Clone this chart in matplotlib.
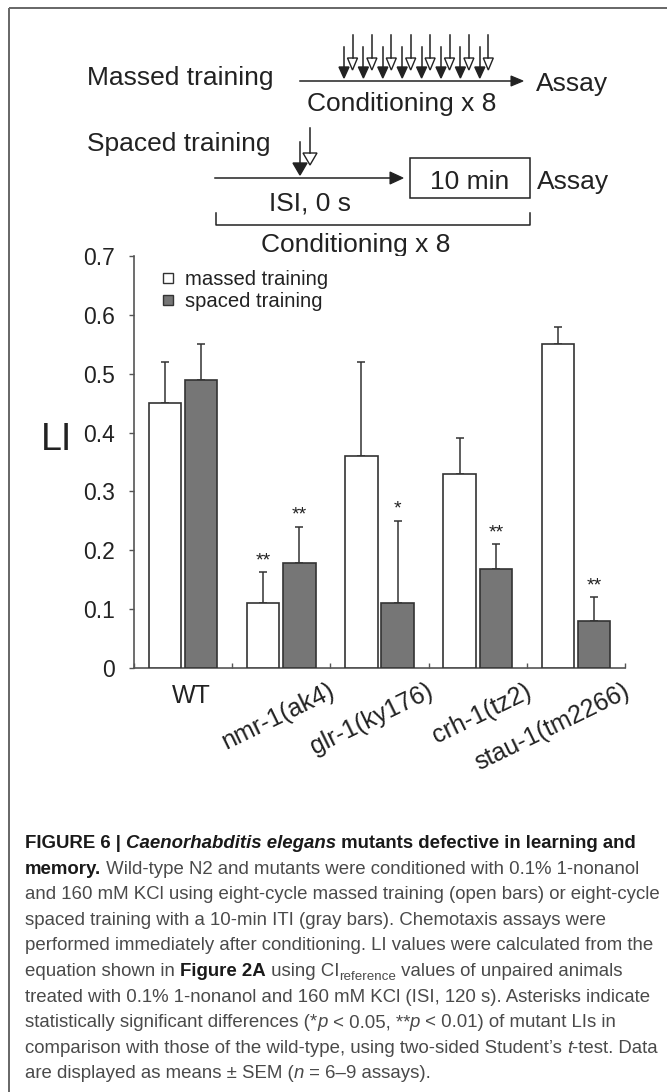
import numpy as np
import matplotlib
matplotlib.use('Agg')
import matplotlib.pyplot as plt
from matplotlib.patches import Polygon, Rectangle
from matplotlib.lines import Line2D
import matplotlib.transforms as mtransforms

# ---------------- data ----------------
genotypes = ['WT', 'nmr-1(ak4)', 'glr-1(ky176)', 'crh-1(tz2)', 'stau-1(tm2266)']
massed_mean = [0.45, 0.11, 0.36, 0.33, 0.55]
massed_sem = [0.07, 0.053, 0.16, 0.06, 0.03]
spaced_mean = [0.49, 0.178, 0.11, 0.168, 0.08]
spaced_sem = [0.06, 0.062, 0.14, 0.042, 0.04]
massed_sig = ['', '**', '', '', '']
spaced_sig = ['', '**', '*', '**', '**']
ytick_values = [0, 0.1, 0.2, 0.3, 0.4, 0.5, 0.6, 0.7]
ytick_labels = ['0', '0.1', '0.2', '0.3', '0.4', '0.5', '0.6', '0.7']
legend_labels = ['massed training', 'spaced training']
ylabel = 'LI'

caption_lines = [
    [('FIGURE 6 | ', 'b'), ('Caenorhabditis elegans', 'bi'), (' mutants defective in learning and', 'b')],
    [('memory.', 'b'), (' Wild-type N2 and mutants were conditioned with 0.1% 1-nonanol', 'r')],
    [('and 160 mM KCl using eight-cycle massed training (open bars) or eight-cycle', 'r')],
    [('spaced training with a 10-min ITI (gray bars). Chemotaxis assays were', 'r')],
    [('performed immediately after conditioning. LI values were calculated from the', 'r')],
    [('equation shown in ', 'r'), ('Figure 2A', 'b'), (' using CI', 'r'), ('reference', 'sub'),
     (' values of unpaired animals', 'r')],
    [('treated with 0.1% 1-nonanol and 160 mM KCl (ISI, 120 s). Asterisks indicate', 'r')],
    [('statistically significant differences (*', 'r'), ('p', 'i'), (' < 0.05, **', 'r'), ('p', 'i'),
     (' < 0.01) of mutant LIs in', 'r')],
    [('comparison with those of the wild-type, using two-sided Student\u2019s ', 'r'), ('t', 'i'),
     ('-test. Data', 'r')],
    [('are displayed as means \u00b1 SEM (', 'r'), ('n', 'i'), (' = 6\u20139 assays).', 'r')],
]

# ---------------- style ----------------
W, H, DPI = 667, 1092, 100
plt.rcParams['font.family'] = ['Liberation Sans', 'DejaVu Sans']
DARK = '#222222'
AXC = '#555555'
GRAY = '#767676'
EDGE = '#333333'

fig = plt.figure(figsize=(W / DPI, H / DPI), dpi=DPI)
fig.patch.set_facecolor('white')

# overlay in pixel coordinates (y downwards)
ov = fig.add_axes([0, 0, 1, 1])
ov.set_xlim(0, W)
ov.set_ylim(H, 0)
ov.axis('off')

# frame lines
ov.plot([9, W], [8, 8], color='#666666', lw=1.4, solid_capstyle='butt')
ov.plot([9, 9], [8, H], color='#666666', lw=1.4, solid_capstyle='butt')

# ---------------- schematic ----------------
LW = 1.1
DFS = 19


def down_arrow(x, top, head_top, tip, hw, filled):
    ov.plot([x, x], [top, head_top], color=DARK, lw=LW)
    ov.add_patch(Polygon([[x - hw, head_top], [x + hw, head_top], [x, tip]], closed=True,
                         facecolor=DARK if filled else 'white', edgecolor=DARK, lw=1.0))


def right_arrow(x0, x1, y, hl=12, hw=5):
    ov.plot([x0, x1 - hl], [y, y], color=DARK, lw=LW)
    ov.add_patch(Polygon([[x1 - hl, y - hw], [x1 - hl, y + hw], [x1, y]], closed=True,
                         facecolor=DARK, edgecolor=DARK, lw=0.8))


def dtext(x, y, s, ha='left'):
    ov.text(x, y, s, fontsize=DFS, color=DARK, ha=ha, va='baseline')


# massed training row
dtext(87, 85, 'Massed training')
right_arrow(300, 523, 81)
for i in range(8):
    xb = 344 + 19.4 * i
    down_arrow(xb + 8.5, 35, 58, 70, 5, False)
    down_arrow(xb, 47, 67, 78, 5, True)
dtext(536, 91, 'Assay')
dtext(402, 111, 'Conditioning x 8', ha='center')

# spaced training row
dtext(87, 151, 'Spaced training')
right_arrow(215, 403, 178, hl=13, hw=6)
down_arrow(310, 128, 153, 165, 7, False)
down_arrow(300, 142, 163, 175, 7, True)
ov.add_patch(Rectangle((410, 158), 120, 40, facecolor='white', edgecolor=DARK, lw=LW))
dtext(470, 189, '10 min', ha='center')
dtext(537, 189, 'Assay')
dtext(310, 211, 'ISI, 0 s', ha='center')
ov.plot([216, 216, 530, 530], [213, 225, 225, 213], color=DARK, lw=LW)
dtext(356, 252, 'Conditioning x 8', ha='center')

# ---------------- bar chart ----------------
ax = fig.add_axes([134 / W, (H - 668) / H, 491 / W, 412 / H])
n = len(genotypes)
centers = np.arange(n) + 0.5
bw = 0.33
off = 0.185
xm = centers - off
xs = centers + off

ax.bar(xm, massed_mean, bw, color='white', edgecolor=EDGE, linewidth=1.2, zorder=3)
ax.bar(xs, spaced_mean, bw, color=GRAY, edgecolor=EDGE, linewidth=1.2, zorder=3)
ax.errorbar(xm, massed_mean, yerr=[np.zeros(n), massed_sem], fmt='none', ecolor=EDGE,
            elinewidth=1.1, capsize=3, capthick=1.1, zorder=2)
ax.errorbar(xs, spaced_mean, yerr=[np.zeros(n), spaced_sem], fmt='none', ecolor=EDGE,
            elinewidth=1.1, capsize=3, capthick=1.1, zorder=2)

for xpos, m, s, sig in list(zip(xm, massed_mean, massed_sem, massed_sig)) + \
        list(zip(xs, spaced_mean, spaced_sem, spaced_sig)):
    if sig:
        ax.annotate(sig, xy=(xpos, m + s), xytext=(0, 5), textcoords='offset points',
                    ha='center', va='baseline', fontsize=14, color=DARK)

ax.set_xlim(0, n)
ax.set_ylim(0, 0.7)
for sp in ['top', 'right']:
    ax.spines[sp].set_visible(False)
for sp in ['left', 'bottom']:
    ax.spines[sp].set_color(AXC)
    ax.spines[sp].set_linewidth(1.2)

ax.set_yticks(ytick_values)
ax.set_yticklabels(ytick_labels)
ax.tick_params(axis='y', direction='out', length=3.6, width=1.0, color=AXC, pad=10,
               labelsize=16.5, labelcolor=DARK)

ax.set_xticks(np.arange(n + 1))
ax.set_xticklabels([''] * (n + 1))
ax.tick_params(axis='x', which='major', direction='in', length=3.6, width=1.0, color=AXC)
ax.set_xticks(centers, genotypes, minor=True)
ax.tick_params(axis='x', which='minor', length=0, pad=8, labelsize=18, labelcolor=DARK)
for i, lab in enumerate(ax.get_xticklabels(minor=True)):
    if i == 0:
        lab.set_ha('center')
        lab.set_transform(lab.get_transform() + mtransforms.ScaledTranslation(8 / DPI, -5 / DPI, fig.dpi_scale_trans))
    else:
        lab.set_rotation(26)
        lab.set_rotation_mode('anchor')
        lab.set_ha('right')
        lab.set_va('top')
        lab.set_transform(lab.get_transform() + mtransforms.ScaledTranslation(47 / DPI, 0, fig.dpi_scale_trans))

handles = [Line2D([], [], ls='none', marker='s', markersize=7, markerfacecolor='white',
                  markeredgecolor=EDGE, markeredgewidth=1.0),
           Line2D([], [], ls='none', marker='s', markersize=7, markerfacecolor=GRAY,
                  markeredgecolor=EDGE, markeredgewidth=1.0)]
leg = ax.legend(handles, legend_labels, loc='upper left',
                bbox_to_anchor=(160 / W, 1 - 270 / H), bbox_transform=fig.transFigure,
                frameon=False, fontsize=14.6, handlelength=0.8, handletextpad=0.45,
                labelspacing=0.15, borderpad=0, borderaxespad=0)
for t in leg.get_texts():
    t.set_color(DARK)

fig.text(56 / W, 1 - 440 / H, ylabel, fontsize=27, color=DARK, ha='center', va='center')

# ---------------- caption ----------------
CFS = 13.4
renderer = fig.canvas.get_renderer()


def style_kw(st):
    if st == 'b':
        return dict(fontsize=CFS, fontweight='bold', color='#1a1a1a')
    if st == 'bi':
        return dict(fontsize=CFS, fontweight='bold', fontstyle='italic', color='#1a1a1a')
    if st == 'i':
        return dict(fontsize=CFS, fontstyle='italic', color='#4a4a4a')
    if st == 'sub':
        return dict(fontsize=CFS * 0.72, color='#4a4a4a')
    return dict(fontsize=CFS, color='#4a4a4a')


def run_width(s, kw):
    t1 = ov.text(0, 0, '|' + s + '|', **kw)
    t2 = ov.text(0, 0, '||', **kw)
    w = t1.get_window_extent(renderer).width - t2.get_window_extent(renderer).width
    t1.remove()
    t2.remove()
    return w


y0 = 848
dy = 25.6
for li, runs in enumerate(caption_lines):
    x = 25
    y = y0 + li * dy
    for s, st in runs:
        kw = style_kw(st)
        yy = y + (4 if st == 'sub' else 0)
        ov.text(x, yy, s, ha='left', va='baseline', **kw)
        x += run_width(s, kw)

fig.savefig('out.png', dpi=DPI, facecolor='white')
